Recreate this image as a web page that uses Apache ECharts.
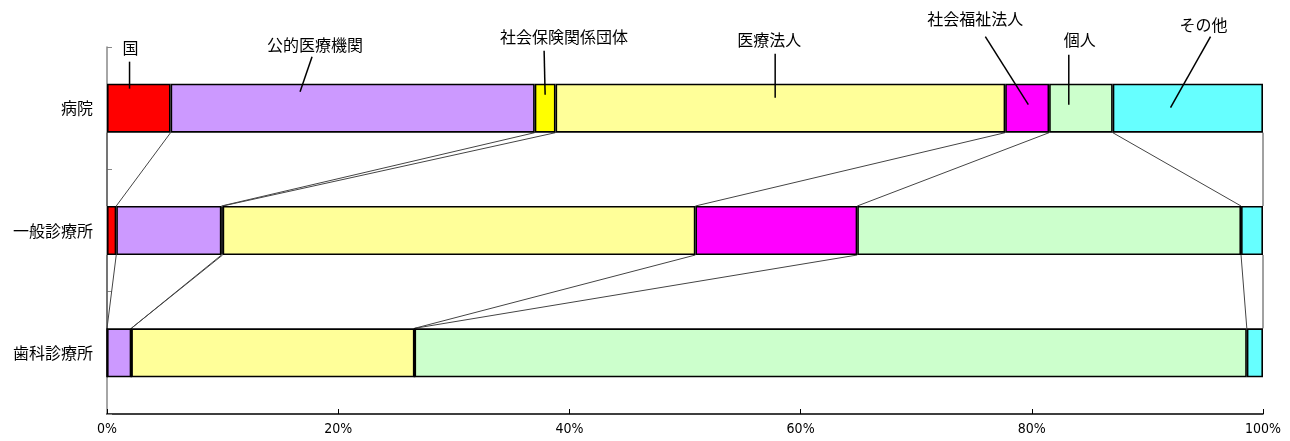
<!DOCTYPE html>
<html>
<head>
<meta charset="utf-8">
<script src="https://cdn.jsdelivr.net/npm/echarts@6/dist/echarts.min.js"></script>
<style>
  html, body { margin: 0; padding: 0; background: #fff; }
  #main { width: 1290px; height: 441px; }
</style>
</head>
<body>
<div id="main"></div>
<script>
// 開設者別 施設数の構成割合 (%)
const categories = ['病院', '一般診療所', '歯科診療所'];
const seriesNames = ['国', '公的医療機関', '社会保険関係団体', '医療法人', '社会福祉法人', '個人', 'その他'];

const kuni          = [5.5, 0.8, 0];
const kouteki       = [31.5, 9.1, 2.1];
const shakaihoken   = [1.8, 0.1, 0];
const iryouhoujin   = [38.9, 40.9, 24.5];
const shakaifukushi = [3.8, 14.0, 0];
const kojin         = [5.5, 33.2, 72.0];
const sonota        = [13.0, 1.9, 1.4];

const seriesValues = [kuni, kouteki, shakaihoken, iryouhoujin, shakaifukushi, kojin, sonota];
const colors = ['#FF0000', '#CC99FF', '#FFFF00', '#FFFF99', '#FF00FF', '#CCFFCC', '#66FFFF'];

// 病院の帯に付ける注記の位置 (値はx軸の%)
const annotAnchorX = [1.95, 16.7, 37.9, 57.8, 79.7, 83.2, 92.0];
const annotAnchorDy = [5, 8, 11, 14, 21, 21, 24];           // 帯上端からの線の終点
const annotLine = [[0, -27], [12, -35], [-1, -44], [0, -44], [-43, -68], [0, -50], [40, -71]];
const annotText = [[1, -14], [3, -12], [20, -14], [-6, -14], [-10, -18], [11, -15], [-7, -12]];

const barWidth = 49;
const fontJP = '"Noto Sans CJK JP", "Noto Sans", sans-serif';

let chart = echarts.init(document.getElementById('main'));

// 累積値 (各行の区切り位置)
let cum = categories.map((c, r) => {
    let acc = [0];
    let s = 0;
    seriesValues.forEach((v) => { s += v[r]; acc.push(Math.min(s, 100)); });
    acc[acc.length - 1] = 100;
    return acc;
});

let connectorData = [];
for (let r = 0; r < categories.length - 1; r++) {
    for (let k = 0; k < cum[r].length; k++) {
        connectorData.push([cum[r][k], cum[r + 1][k], r]);
    }
}

let barSeries = seriesNames.map((name, i) => {
    return {
        name: name,
        type: 'bar',
        stack: 'total',
        barWidth: barWidth,
        data: seriesValues[i],
        itemStyle: {
            color: colors[i],
            borderColor: '#000',
            borderWidth: 1.6
        },
        silent: true,
        z: 3
    };
});

let option = {
    animation: false,
    grid: {
        left: 107,
        right: 27,
        top: 47,
        bottom: 27
    },
    xAxis: {
        type: 'value',
        min: 0,
        max: 100,
        interval: 20,
        axisLine: { show: true, lineStyle: { color: '#000', width: 1.5 } },
        axisTick: { show: true, inside: true, length: 5, lineStyle: { color: '#000' } },
        splitLine: { show: false },
        axisLabel: {
            formatter: '{value}%',
            color: '#000',
            fontSize: 14,
            fontFamily: '"Liberation Sans Narrow", "DejaVu Sans Condensed", "Liberation Sans", sans-serif',
            margin: 8
        }
    },
    yAxis: {
        type: 'category',
        data: categories,
        inverse: true,
        axisLine: { show: true, lineStyle: { color: '#888', width: 1.5 } },
        axisTick: { show: true, inside: true, length: 5, lineStyle: { color: '#888' } },
        axisLabel: {
            color: '#000',
            fontSize: 16,
            fontFamily: fontJP,
            margin: 14
        }
    },
    series: barSeries.concat([
        {
            type: 'custom',
            name: 'connector',
            silent: true,
            z: 2,
            data: connectorData,
            renderItem: function (params, api) {
                let r = api.value(2);
                let p1 = api.coord([api.value(0), r]);
                let p2 = api.coord([api.value(1), r + 1]);
                return {
                    type: 'line',
                    shape: {
                        x1: p1[0], y1: p1[1] + barWidth / 2,
                        x2: p2[0], y2: p2[1] - barWidth / 2
                    },
                    style: { stroke: '#444', lineWidth: 1 }
                };
            }
        },
        {
            type: 'custom',
            name: 'annotation',
            silent: true,
            z: 5,
            clip: false,
            data: annotAnchorX.map((x, i) => [x, 0, i]),
            renderItem: function (params, api) {
                let i = api.value(2);
                let p = api.coord([api.value(0), 0]);
                let bx = p[0];
                let by = p[1] - barWidth / 2 + annotAnchorDy[i];
                let tx = bx + annotLine[i][0];
                let ty = by + annotLine[i][1];
                return {
                    type: 'group',
                    children: [
                        {
                            type: 'line',
                            shape: { x1: bx, y1: by, x2: tx, y2: ty },
                            style: { stroke: '#000', lineWidth: 1.5 }
                        },
                        {
                            type: 'text',
                            style: {
                                text: seriesNames[i],
                                x: tx + annotText[i][0],
                                y: ty + annotText[i][1],
                                align: 'center',
                                verticalAlign: 'middle',
                                fill: '#000',
                                font: '16px ' + fontJP
                            }
                        }
                    ]
                };
            }
        }
    ])
};

chart.setOption(option);
</script>
</body>
</html>
